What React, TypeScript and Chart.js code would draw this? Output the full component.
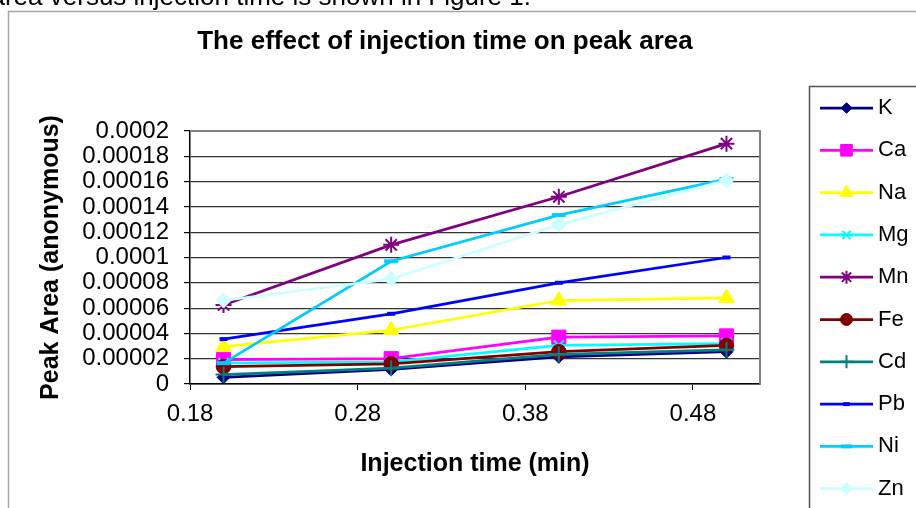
import React, { useEffect, useRef } from 'react';
import { Chart, registerables } from 'chart.js';
import { drawPoint } from 'chart.js/helpers';

Chart.register(...registerables);

// ---------- data ----------
const injectionTimes = [0.2, 0.3, 0.4, 0.5];
const seriesNames = ['K', 'Ca', 'Na', 'Mg', 'Mn', 'Fe', 'Cd', 'Pb', 'Ni', 'Zn'];
const K = [0.0000053, 0.0000115, 0.0000215, 0.0000255];
const Ca = [0.0000192, 0.00002, 0.000037, 0.000038];
const Na = [0.0000295, 0.0000425, 0.000066, 0.000068];
const Mg = [0.0000165, 0.0000175, 0.0000305, 0.000032];
const Mn = [0.0000625, 0.00011, 0.000148, 0.00019];
const Fe = [0.0000137, 0.000016, 0.0000255, 0.0000305];
const Cd = [0.0000075, 0.0000125, 0.0000235, 0.000027];
const Pb = [0.0000355, 0.0000555, 0.00008, 0.0001];
const Ni = [0.0000165, 0.000097, 0.0001335, 0.000162];
const Zn = [0.000066, 0.000083, 0.000126, 0.000161];
const seriesValues = [K, Ca, Na, Mg, Mn, Fe, Cd, Pb, Ni, Zn];

const xTickValues = [0.18, 0.28, 0.38, 0.48];
const xTickLabels = ['0.18', '0.28', '0.38', '0.48'];
const yTickValues = [0, 0.00002, 0.00004, 0.00006, 0.00008, 0.0001, 0.00012, 0.00014, 0.00016, 0.00018, 0.0002];
const yTickLabels = ['0', '0.00002', '0.00004', '0.00006', '0.00008', '0.0001', '0.00012', '0.00014', '0.00016', '0.00018', '0.0002'];

const chartTitle = 'The effect of injection time on peak area';
const xTitle = 'Injection time (min)';
const yTitle = 'Peak Area (anonymous)';
const topText = 'area versus injection time is shown in Figure 1.';

// ---------- styles ----------
const seriesStyles = [
  { color: '#000080', fill: '#000080', style: 'rectRot', radius: 6.5, bw: 1 },
  { color: '#FF00FF', fill: '#FF00FF', style: 'rect', radius: 10, bw: 1 },
  { color: '#FFFF00', fill: '#FFFF00', style: 'triangle', radius: 9, bw: 1 },
  { color: '#00FFFF', fill: '#00FFFF', style: 'crossRot', radius: 7, bw: 2 },
  { color: '#800080', fill: '#800080', style: 'star', radius: 8, bw: 2 },
  { color: '#800000', fill: '#800000', style: 'circle', radius: 7.3, bw: 1 },
  { color: '#008080', fill: '#008080', style: 'cross', radius: 8, bw: 2 },
  { color: '#0000FF', fill: '#0000FF', style: 'line', radius: 4, bw: 4 },
  { color: '#00CCFF', fill: '#00CCFF', style: 'line', radius: 7, bw: 4 },
  { color: '#CCFFFF', fill: '#CCFFFF', style: 'rectRot', radius: 7.5, bw: 1 },
];

const FONT = '"Liberation Sans", Arial, Helvetica, sans-serif';

const decorPlugin = {
  id: 'decor',
  beforeDraw(chart: any) {
    const ctx = chart.ctx;
    ctx.save();
    ctx.fillStyle = '#ffffff';
    ctx.fillRect(0, 0, chart.width, chart.height);
    ctx.strokeStyle = '#a6a6a6';
    ctx.lineWidth = 1.5;
    ctx.beginPath();
    ctx.moveTo(8.5, chart.height + 10);
    ctx.lineTo(8.5, 11.5);
    ctx.lineTo(chart.width + 10, 11.5);
    ctx.stroke();
    ctx.restore();
  },
  beforeDatasetsDraw(chart: any) {
    const ctx = chart.ctx;
    const { left, top, right, bottom } = chart.chartArea;
    ctx.save();
    ctx.strokeStyle = '#808080';
    ctx.lineWidth = 2;
    ctx.beginPath();
    ctx.moveTo(left, top);
    ctx.lineTo(right, top);
    ctx.lineTo(right, bottom);
    ctx.stroke();
    ctx.restore();
  },
  afterDraw(chart: any) {
    const ctx = chart.ctx;
    ctx.save();
    ctx.strokeStyle = '#555555';
    ctx.lineWidth = 1.5;
    ctx.strokeRect(809.5, 86.5, 300, 600);
    const datasets = chart.data.datasets;
    datasets.forEach((ds: any, i: number) => {
      const y = 108 + i * 42.3;
      ctx.strokeStyle = ds.borderColor;
      ctx.lineWidth = 2.75;
      ctx.beginPath();
      ctx.moveTo(820, y);
      ctx.lineTo(873, y);
      ctx.stroke();
      ctx.fillStyle = ds.pointBackgroundColor;
      ctx.strokeStyle = ds.pointBorderColor;
      ctx.lineWidth = ds.pointBorderWidth;
      drawPoint(ctx, { pointStyle: ds.pointStyle, radius: ds.pointRadius * 0.82, rotation: 0, borderWidth: ds.pointBorderWidth }, 846.5, y);
      ctx.fillStyle = '#000000';
      ctx.font = `22px ${FONT}`;
      ctx.textAlign = 'left';
      ctx.textBaseline = 'middle';
      ctx.fillText(ds.label, 878, y);
    });
    ctx.restore();
  },
};

export default function App() {
  const canvasRef = useRef<HTMLCanvasElement | null>(null);

  useEffect(() => {
    if (!canvasRef.current) return;
    Chart.defaults.font.family = FONT;
    const datasets = seriesNames.map((name, i) => {
      const st = seriesStyles[i];
      return {
        label: name,
        data: injectionTimes.map((t, j) => ({ x: t, y: seriesValues[i][j] })),
        borderColor: st.color,
        backgroundColor: st.fill,
        borderWidth: 2.75,
        pointStyle: st.style,
        pointRadius: st.radius,
        pointBackgroundColor: st.fill,
        pointBorderColor: st.color,
        pointBorderWidth: st.bw,
        tension: 0,
        fill: false,
        order: seriesNames.length - i,
      };
    });

    const chart = new Chart(canvasRef.current, {
      type: 'line',
      data: { datasets },
      plugins: [decorPlugin],
      options: {
        animation: false,
        responsive: false,
        maintainAspectRatio: false,
        layout: { padding: { left: 20, right: 46, top: 20, bottom: 0 } },
        plugins: {
          legend: { display: false },
          tooltip: { enabled: false },
          title: {
            display: true,
            text: chartTitle,
            color: '#000000',
            font: { size: 26, weight: 'bold', family: FONT, lineHeight: 1.2 },
            padding: { top: 6, bottom: 73.8 },
          },
        },
        scales: {
          x: {
            type: 'linear',
            min: 0.18,
            max: 0.52,
            afterBuildTicks: (scale: any) => {
              scale.ticks = xTickValues.map((v) => ({ value: v }));
            },
            afterFit: (scale: any) => {
              scale.height = 124;
            },
            ticks: {
              color: '#000000',
              font: { size: 24, family: FONT, lineHeight: 1.2 },
              padding: 10,
              maxRotation: 0,
              autoSkip: false,
              callback: (_v: any, index: number) => xTickLabels[index],
            },
            grid: { drawOnChartArea: false, drawTicks: true, tickLength: 6, tickColor: '#000000', lineWidth: 1 },
            border: { display: true, color: '#000000', width: 1.5 },
            title: {
              display: true,
              text: xTitle,
              color: '#000000',
              font: { size: 25, weight: 'bold', family: FONT, lineHeight: 1.2 },
              padding: { top: 0, bottom: 28.7 },
            },
          },
          y: {
            type: 'linear',
            position: 'left',
            min: 0,
            max: 0.0002,
            afterBuildTicks: (scale: any) => {
              scale.ticks = yTickValues.map((v) => ({ value: v }));
            },
            afterFit: (scale: any) => {
              scale.width = 170;
            },
            ticks: {
              color: '#000000',
              font: { size: 24, family: FONT, lineHeight: 1.2 },
              padding: 15,
              autoSkip: false,
              callback: (_v: any, index: number) => yTickLabels[index],
            },
            grid: { drawOnChartArea: true, drawTicks: true, tickLength: 6, color: '#333333', tickColor: '#000000', lineWidth: 1.2 },
            border: { display: true, color: '#000000', width: 1.5 },
            title: {
              display: true,
              text: yTitle,
              color: '#000000',
              font: { size: 25, weight: 'bold', family: FONT, lineHeight: 1.2 },
              padding: { top: 16, bottom: 0 },
            },
          },
          yR: {
            type: 'linear',
            position: 'right',
            display: true,
            afterFit: (scale: any) => {
              scale.width = 110;
            },
            ticks: { display: false },
            grid: { display: false, drawTicks: false },
            border: { display: false },
          },
        },
      } as any,
    });
    return () => chart.destroy();
  }, []);

  return (
    <div style={{ position: 'absolute', left: 0, top: 0, width: 916, height: 508, overflow: 'hidden', background: '#fff' }}>
      <canvas ref={canvasRef} width={916} height={508} style={{ position: 'absolute', left: 0, top: 0, width: 916, height: 508 }} />
      <div
        style={{
          position: 'absolute',
          left: -9.5,
          top: -17,
          fontFamily: FONT,
          fontSize: 26,
          lineHeight: '26px',
          whiteSpace: 'nowrap',
          color: '#000',
        }}
      >
        {topText}
      </div>
    </div>
  );
}
